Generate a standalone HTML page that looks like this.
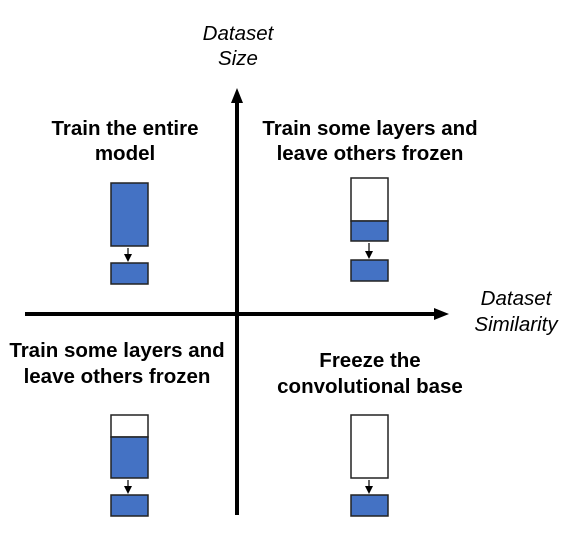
<!DOCTYPE html>
<html><head><style>body{margin:0;background:#fff}</style></head><body>
<svg width="566" height="549" xmlns="http://www.w3.org/2000/svg" font-family="Liberation Sans, Arial, sans-serif">
<g font-style="italic" font-size="20.5" text-anchor="middle" fill="#000">
<text x="238" y="40">Dataset</text><text x="238" y="65">Size</text>
<text x="516" y="305">Dataset</text><text x="516" y="331">Similarity</text>
</g>
<g font-weight="bold" font-size="20.5" text-anchor="middle" fill="#000">
<text x="125" y="135">Train the entire</text><text x="125" y="160">model</text>
<text x="370" y="135">Train some layers and</text><text x="370" y="160">leave others frozen</text>
<text x="117" y="357">Train some layers and</text><text x="117" y="383">leave others frozen</text>
<text x="370" y="367">Freeze the</text><text x="370" y="393">convolutional base</text>
</g>
<line x1="237" y1="100" x2="237" y2="515" stroke="#000" stroke-width="4"/>
<polygon points="237,88 231,103 243,103" fill="#000"/>
<line x1="25" y1="314" x2="436" y2="314" stroke="#000" stroke-width="4"/>
<polygon points="449,314 434,308 434,320" fill="#000"/>
<g stroke="#222" stroke-width="1.5">
<rect x="111" y="183" width="37" height="63" fill="#4472c4"/>
<rect x="111" y="263" width="37" height="21" fill="#4472c4"/>
<rect x="351" y="178" width="37" height="43" fill="#fff"/>
<rect x="351" y="221" width="37" height="20" fill="#4472c4"/>
<rect x="351" y="260" width="37" height="21" fill="#4472c4"/>
<rect x="111" y="415" width="37" height="22" fill="#fff"/>
<rect x="111" y="437" width="37" height="41" fill="#4472c4"/>
<rect x="111" y="495" width="37" height="21" fill="#4472c4"/>
<rect x="351" y="415" width="37" height="63" fill="#fff"/>
<rect x="351" y="495" width="37" height="21" fill="#4472c4"/>
</g>
<g stroke="#000" stroke-width="1.2">
<line x1="128" y1="248" x2="128" y2="255"/><line x1="369" y1="243" x2="369" y2="252"/>
<line x1="128" y1="480" x2="128" y2="487"/><line x1="369" y1="480" x2="369" y2="487"/>
</g>
<g fill="#000">
<polygon points="124,254 132,254 128,262"/><polygon points="365,251 373,251 369,259"/>
<polygon points="124,486 132,486 128,494"/><polygon points="365,486 373,486 369,494"/>
</g>
</svg>
</body></html>
